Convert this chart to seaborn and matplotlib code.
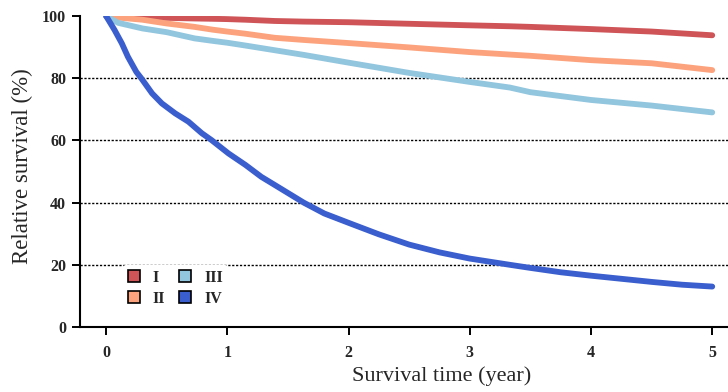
import matplotlib
matplotlib.use("Agg")
import matplotlib.pyplot as plt
import seaborn as sns
import pandas as pd
from matplotlib.patches import Patch

# ---- data ----
time_I_III = [0, 0.1, 0.3, 0.5, 0.73, 0.88, 1.0, 1.15, 1.39, 1.63, 2.0, 2.5, 3.0, 3.33, 3.5, 4.0, 4.5, 5.0]
stage_I = [100, 99.8, 99.5, 99.4, 99.2, 99.1, 99.0, 98.8, 98.4, 98.2, 98.0, 97.5, 97.0, 96.7, 96.5, 95.8, 95.0, 93.8]
stage_II = [100, 99.5, 98.8, 97.6, 96.5, 95.6, 95.0, 94.3, 93.0, 92.3, 91.3, 89.9, 88.4, 87.6, 87.2, 85.8, 84.8, 82.6]
stage_III = [100, 97.8, 96.0, 94.8, 92.8, 92.0, 91.4, 90.5, 89.0, 87.5, 85.0, 81.7, 78.8, 77.0, 75.5, 73.0, 71.2, 69.0]
time_IV = [0, 0.07, 0.13, 0.18, 0.25, 0.29, 0.38, 0.46, 0.57, 0.68, 0.79, 0.87, 1.01, 1.15,
           1.28, 1.39, 1.63, 1.8, 2.0, 2.25, 2.5, 2.75, 3.0, 3.33, 3.5, 3.75, 4.0, 4.25, 4.5, 4.75, 5.0]
stage_IV = [100, 95.5, 91.2, 86.9, 82.0, 80.0, 75.1, 71.9, 68.7, 66.0, 62.3, 60.1, 55.8, 52.1,
            48.3, 45.7, 40.0, 36.5, 33.5, 29.8, 26.5, 24.0, 22.0, 20.0, 19.0, 17.6, 16.5, 15.5, 14.5, 13.6, 13.0]
stages = ["I", "II", "III", "IV"]
x_ticks = [0, 1, 2, 3, 4, 5]
y_ticks = [0, 20, 40, 60, 80, 100]
grid_levels = [20, 40, 60, 80]

colors = {"I": "#CE5457", "II": "#FCA37D", "III": "#92C5DE", "IV": "#3A5ECD"}

series = {"I": (time_I_III, stage_I), "II": (time_I_III, stage_II),
          "III": (time_I_III, stage_III), "IV": (time_IV, stage_IV)}
rows = []
for name in stages:
    ts, vals = series[name]
    for t, v in zip(ts, vals):
        rows.append({"time": t, "survival": v, "stage": name})
df = pd.DataFrame(rows)

sns.set_style("white")
plt.rcParams["font.family"] = ["Liberation Serif", "DejaVu Serif"]

fig = plt.figure(figsize=(7.28, 3.92), dpi=100)
ax = fig.add_axes([80 / 728, 65 / 392, 648 / 728, 311 / 392])

for lv in grid_levels:
    ax.axhline(lv, color="black", lw=1.0, ls=(0, (1.6, 1.2)), zorder=0)

sns.lineplot(data=df, x="time", y="survival", hue="stage", palette=colors,
             hue_order=stages, lw=4.2, ax=ax, legend=False, zorder=3,
             solid_capstyle="round", solid_joinstyle="round")

ax.set_xlim(-0.215, 5.13)
ax.set_ylim(0, 100)
ax.set_xticks(x_ticks)
ax.set_yticks(y_ticks)
ax.set_xticklabels([str(v) for v in x_ticks], fontweight="bold", fontsize=11.5)
ax.set_yticklabels([str(v) for v in y_ticks], fontweight="bold", fontsize=11.5)
ax.tick_params(axis="both", direction="out", length=6, width=1.4, color="black",
               bottom=True, left=True)
ax.tick_params(axis="x", pad=7)
ax.tick_params(axis="y", pad=4)
for side in ["top", "right"]:
    ax.spines[side].set_visible(False)
for side in ["left", "bottom"]:
    ax.spines[side].set_color("black")
    ax.spines[side].set_linewidth(1.5)

ax.set_xlabel("Survival time (year)", fontsize=16)
ax.set_ylabel("Relative survival (%)", fontsize=16.5)
ax.xaxis.set_label_coords((442 - 80) / 648, (327 - 366) / 311)
ax.yaxis.set_label_coords((33 - 80) / 648, (327 - 166) / 311)

handles = [Patch(facecolor=colors[s], edgecolor="black", lw=1.2, label=s) for s in stages]
leg = ax.legend(handles=handles, ncol=2, loc="upper left",
                bbox_to_anchor=(35 / 648, 70 / 311), frameon=True,
                handlelength=0.75, handleheight=0.75, handletextpad=0.8,
                columnspacing=0.9, labelspacing=0.3, borderpad=0.3,
                prop={"weight": "bold", "size": 11.5, "family": "Liberation Serif"})
leg.get_frame().set_facecolor("white")
leg.get_frame().set_edgecolor("none")
leg.get_frame().set_alpha(1)
leg.set_zorder(5)

fig.savefig("out.png", dpi=100)
